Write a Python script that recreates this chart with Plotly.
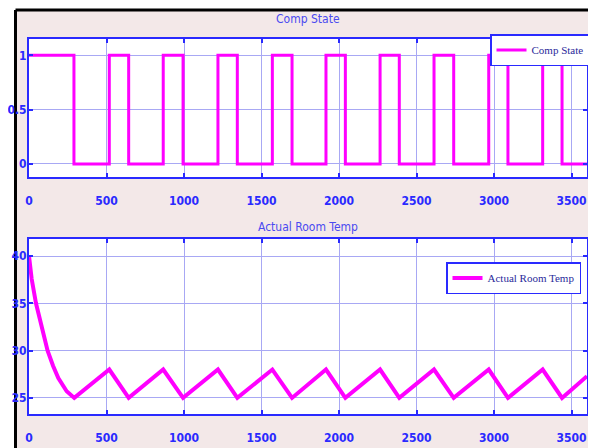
import plotly.graph_objects as go

# ---- data ----
comp_time = [0, 290, 518, 643, 866, 994, 1219, 1344, 1570, 1697, 1916, 2041,
             2265, 2389, 2613, 2740, 2966, 3090, 3314, 3439, 3600]
comp_state = [1, 0, 1, 0, 1, 0, 1, 0, 1, 0, 1, 0, 1, 0, 1, 0, 1, 0, 1, 0, 0]

temp_time = [0, 17, 45, 82, 120, 155, 189, 243, 292, 518, 643, 866, 994, 1219,
             1344, 1570, 1697, 1916, 2041, 2265, 2389, 2613, 2740, 2966, 3090,
             3314, 3439, 3600]
temp_value = [40, 37.6, 35, 32.4, 30, 28.4, 27.1, 25.7, 25, 28, 25, 28, 25, 28,
              25, 28, 25, 28, 25, 28, 25, 28, 25, 28, 25, 28, 25, 27.3]

x_ticks = [0, 500, 1000, 1500, 2000, 2500, 3000, 3500]
comp_ticks = [0, 0.5, 1]
temp_ticks = [25, 30, 35, 40]

# ---- layout geometry (page body has an 8px margin) ----
OFF = 8
W, H = 596 - OFF, 448 - OFF
ML, MT = 29 - OFF, 39 - OFF
MR = W - (587 - OFF)
MB = H - (414 - OFF)
PW, PH = W - ML - MR, H - MT - MB


def px(x):
    """page pixel x -> paper fraction"""
    return (x - OFF - ML) / PW


def py(y):
    """page pixel y -> paper fraction"""
    return (H - MB - (y - OFF)) / PH


MAG = "#ff00ff"
AXC = "#2a2aff"
GRID = "#a8a8f4"
NARROW = "DejaVu Sans Condensed, Liberation Sans Narrow, Arial Narrow, sans-serif"
TICKF = dict(family=NARROW, size=12, color="#2a2aff", weight="bold")

fig = go.Figure()
fig.add_trace(go.Scatter(x=comp_time, y=comp_state, mode="lines", line_shape="hv",
                         line=dict(color=MAG, width=3), name="Comp State",
                         xaxis="x", yaxis="y", legend="legend"))
fig.add_trace(go.Scatter(x=temp_time, y=temp_value, mode="lines",
                         line=dict(color=MAG, width=4), name="Actual Room Temp",
                         xaxis="x2", yaxis="y2", legend="legend2"))

axcommon = dict(showline=True, linecolor=AXC, linewidth=2, mirror="ticks",
                showgrid=True, gridcolor=GRID, gridwidth=1.3, zeroline=False,
                ticks="inside", ticklen=4, tickcolor=AXC, tickwidth=1.5,
                tickfont=TICKF, automargin=False)

fig.update_layout(
    width=W, height=H,
    margin=dict(l=ML, r=MR, t=MT, b=MB, autoexpand=False),
    paper_bgcolor="#f3e8e8",
    plot_bgcolor="white",
    showlegend=True,
    xaxis=dict(domain=[0, 1], range=[0, 3600], tickvals=x_ticks, anchor="y",
               ticklabelstandoff=12, **axcommon),
    yaxis=dict(domain=[py(177), 1], range=[-0.12, 1.15], tickvals=comp_ticks,
               ticktext=["0", "0.5", "1"], anchor="x", ticklabelstandoff=-2, **axcommon),
    xaxis2=dict(domain=[0, 1], range=[0, 3600], tickvals=x_ticks, anchor="y2",
                ticklabelstandoff=12, **axcommon),
    yaxis2=dict(domain=[0, py(239)], range=[23.3, 41.8], tickvals=temp_ticks,
                anchor="x2", ticklabelstandoff=-2, **axcommon),
    legend=dict(x=px(590), y=py(34), xanchor="right", yanchor="top",
                bgcolor="white", bordercolor=AXC, borderwidth=1.5,
                font=dict(family="Liberation Serif, Times New Roman", size=11,
                          color="#2a2a9a"),
                itemwidth=30),
    legend2=dict(x=px(581), y=py(262), xanchor="right", yanchor="top",
                 bgcolor="white", bordercolor=AXC, borderwidth=1.5,
                 font=dict(family="Liberation Serif, Times New Roman", size=11,
                           color="#2a2a9a"),
                 itemwidth=30),
    shapes=[
        # white page outside the frame (top and left strips)
        dict(type="rect", xref="paper", yref="paper", layer="below",
             x0=px(0), x1=px(600), y0=py(10), y1=py(0),
             fillcolor="white", line=dict(width=0)),
        dict(type="rect", xref="paper", yref="paper", layer="below",
             x0=px(0), x1=px(15.5), y0=py(460), y1=py(0),
             fillcolor="white", line=dict(width=0)),
        # black frame edges
        dict(type="line", xref="paper", yref="paper", layer="below",
             x0=px(15.5), x1=px(590), y0=py(10), y1=py(10),
             line=dict(color="black", width=3)),
        dict(type="line", xref="paper", yref="paper", layer="below",
             x0=px(15.5), x1=px(15.5), y0=py(10), y1=py(460),
             line=dict(color="black", width=3)),
        dict(type="rect", xref="paper", yref="paper", layer="below",
             x0=px(588), x1=px(600), y0=py(460), y1=py(8.5),
             fillcolor="black", line=dict(width=0)),
    ],
    annotations=[
        dict(text="Comp State", x=0.5, y=py(19), xref="paper", yref="paper",
             showarrow=False, xanchor="center", yanchor="middle",
             font=dict(family=NARROW, size=12, color="#4a4af0")),
        dict(text="Actual Room Temp", x=0.5, y=py(227), xref="paper", yref="paper",
             showarrow=False, xanchor="center", yanchor="middle",
             font=dict(family=NARROW, size=12, color="#4a4af0")),
    ],
)

fig.write_html("out.html")
